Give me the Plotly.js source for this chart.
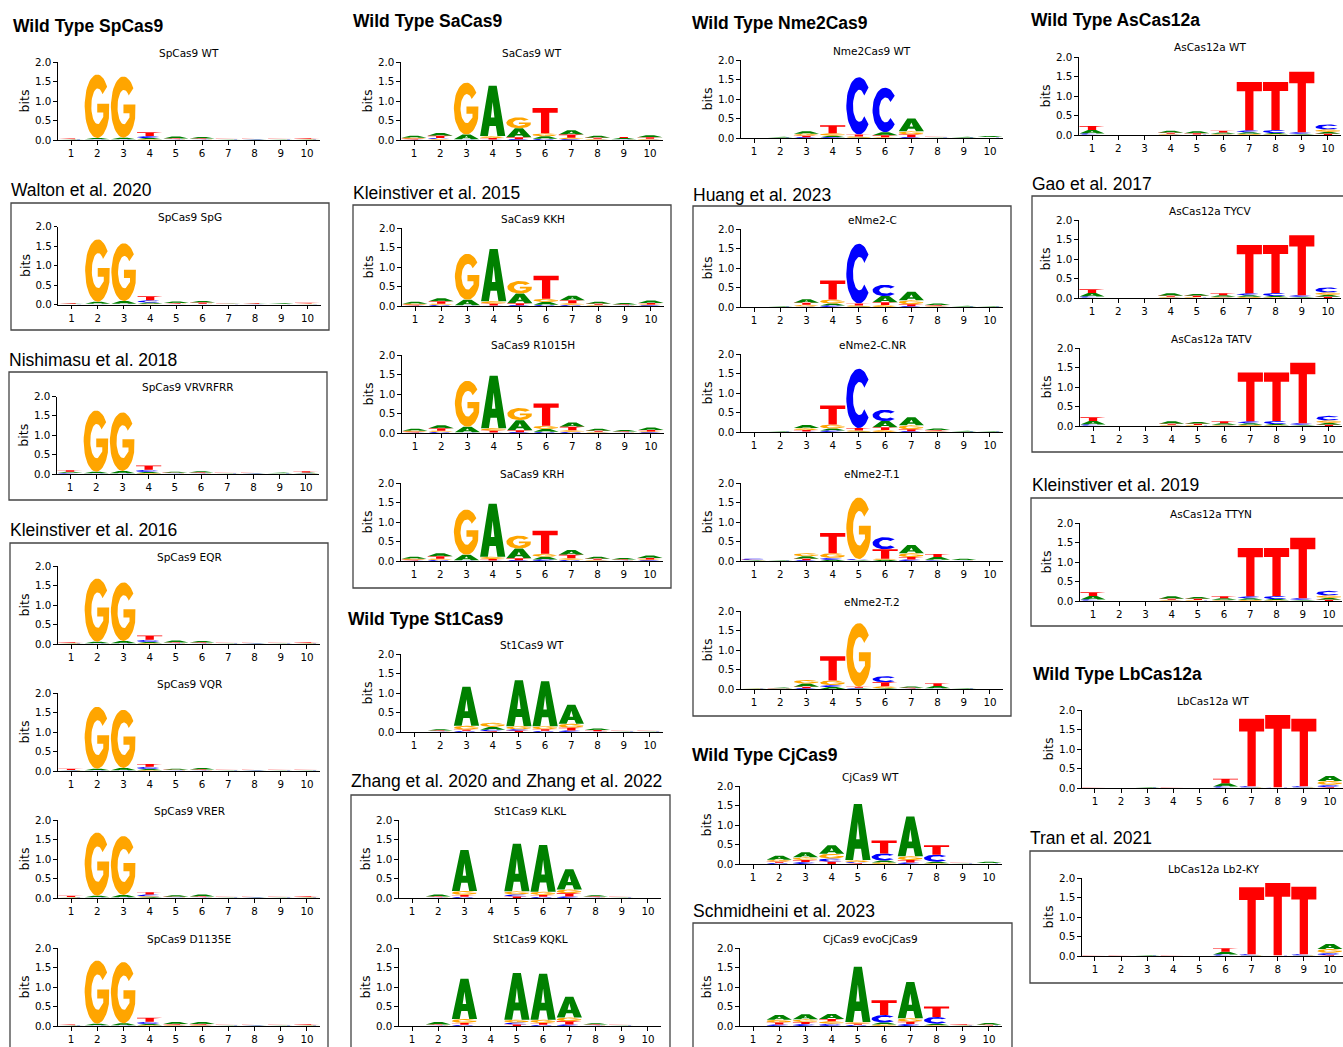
<!DOCTYPE html>
<html><head><meta charset="utf-8">
<script src="https://cdn.plot.ly/plotly-3.0.1.min.js"></script>
<style>html,body{margin:0;padding:0;background:#fff}</style>
</head><body><div id="chart" style="width:1343px;height:1047px"></div>
<script>
// ---------------- DATA ----------------
const positions = [1,2,3,4,5,6,7,8,9,10];
const yTickVals = [0,0.5,1,1.5,2];
const yTickText = ['0.0','0.5','1.0','1.5','2.0'];
const bases = ['A','C','G','T'];

// information content (bits) per base per position
const SpCas9_WT = {
 A:[0.01,0.03,0.04,0.03,0.05,0.04,0.01,0.01,0.01,0.01],
 C:[0.005,0.01,0.01,0.05,0.01,0.01,0.005,0.005,0.005,0.005],
 G:[0.005,1.63,1.57,0.02,0.01,0.01,0.005,0.005,0.005,0.01],
 T:[0.02,0.01,0.01,0.10,0.02,0.02,0.01,0.01,0.01,0.02]};
const SpCas9_SpG = {
 A:[0.01,0.05,0.07,0.03,0.04,0.04,0.01,0.01,0.02,0.01],
 C:[0.005,0.01,0.01,0.06,0.01,0.01,0.005,0.005,0.005,0.005],
 G:[0.005,1.60,1.48,0.02,0.01,0.01,0.005,0.005,0.005,0.01],
 T:[0.02,0.01,0.01,0.10,0.02,0.03,0.01,0.02,0.01,0.02]};
const SpCas9_VRVRFRR = {
 A:[0.03,0.04,0.06,0.03,0.03,0.03,0.01,0.01,0.02,0.02],
 C:[0.02,0.01,0.01,0.06,0.01,0.01,0.005,0.005,0.005,0.01],
 G:[0.01,1.58,1.51,0.02,0.01,0.01,0.005,0.005,0.005,0.01],
 T:[0.04,0.01,0.01,0.11,0.01,0.02,0.01,0.01,0.01,0.03]};
const SpCas9_EQR = {
 A:[0.01,0.04,0.06,0.03,0.05,0.04,0.01,0.01,0.01,0.01],
 C:[0.005,0.01,0.01,0.06,0.01,0.01,0.005,0.005,0.005,0.005],
 G:[0.01,1.62,1.50,0.02,0.01,0.01,0.005,0.005,0.005,0.01],
 T:[0.02,0.01,0.01,0.11,0.02,0.02,0.01,0.01,0.01,0.02]};
const SpCas9_VQR = {
 A:[0.01,0.04,0.06,0.03,0.03,0.04,0.01,0.01,0.01,0.01],
 C:[0.01,0.01,0.01,0.06,0.01,0.01,0.005,0.005,0.005,0.005],
 G:[0.005,1.59,1.49,0.02,0.01,0.01,0.005,0.005,0.005,0.005],
 T:[0.03,0.01,0.01,0.07,0.01,0.02,0.01,0.01,0.01,0.01]};
const SpCas9_VRER = {
 A:[0.01,0.04,0.06,0.02,0.04,0.05,0.01,0.01,0.01,0.01],
 C:[0.005,0.01,0.01,0.05,0.01,0.01,0.005,0.005,0.005,0.005],
 G:[0.01,1.62,1.51,0.02,0.01,0.01,0.005,0.005,0.005,0.01],
 T:[0.03,0.01,0.01,0.06,0.01,0.02,0.01,0.01,0.01,0.02]};
const SpCas9_D1135E = {
 A:[0.01,0.04,0.05,0.03,0.05,0.05,0.01,0.01,0.01,0.01],
 C:[0.005,0.01,0.01,0.06,0.01,0.01,0.005,0.005,0.005,0.005],
 G:[0.005,1.62,1.57,0.02,0.02,0.02,0.005,0.005,0.005,0.01],
 T:[0.02,0.01,0.01,0.10,0.02,0.02,0.01,0.01,0.01,0.02]};
const SaCas9_WT = {
 A:[0.05,0.07,0.12,1.29,0.23,0.065,0.11,0.05,0.03,0.05],
 C:[0.01,0.03,0.01,0.01,0.02,0.03,0.02,0.01,0.01,0.01],
 G:[0.03,0.02,1.33,0.05,0.28,0.075,0.04,0.02,0.01,0.02],
 T:[0.02,0.06,0.01,0.04,0.05,0.65,0.08,0.03,0.03,0.04]};
const SaCas9_KKH = {
 A:[0.05,0.08,0.14,1.34,0.25,0.075,0.11,0.05,0.04,0.06],
 C:[0.01,0.03,0.01,0.01,0.02,0.03,0.03,0.01,0.01,0.02],
 G:[0.03,0.03,1.18,0.06,0.32,0.08,0.04,0.02,0.01,0.02],
 T:[0.02,0.06,0.01,0.05,0.05,0.59,0.08,0.03,0.02,0.04]};
const SaCas9_R1015H = {
 A:[0.05,0.08,0.14,1.35,0.26,0.075,0.11,0.05,0.04,0.06],
 C:[0.01,0.03,0.01,0.01,0.02,0.03,0.03,0.01,0.01,0.02],
 G:[0.03,0.03,1.18,0.06,0.31,0.08,0.04,0.02,0.01,0.02],
 T:[0.02,0.06,0.01,0.05,0.05,0.57,0.09,0.03,0.02,0.04]};
const SaCas9_KRH = {
 A:[0.05,0.08,0.14,1.36,0.25,0.07,0.12,0.05,0.04,0.06],
 C:[0.01,0.03,0.01,0.01,0.02,0.04,0.03,0.01,0.01,0.02],
 G:[0.03,0.03,1.16,0.06,0.33,0.075,0.04,0.02,0.01,0.02],
 T:[0.02,0.06,0.01,0.04,0.05,0.59,0.09,0.03,0.02,0.04]};
const St1Cas9_WT = {
 A:[0.005,0.03,1.00,0.07,1.18,1.15,0.49,0.04,0.01,0.01],
 C:[0.005,0.01,0.03,0.04,0.04,0.03,0.04,0.01,0.005,0.005],
 G:[0.005,0.01,0.10,0.11,0.08,0.08,0.10,0.01,0.005,0.005],
 T:[0.005,0.02,0.03,0.02,0.03,0.04,0.07,0.03,0.01,0.01]};
const St1Cas9_KLKL = {
 A:[0.005,0.05,1.05,0.005,1.22,1.20,0.52,0.03,0.01,0.005],
 C:[0.005,0.01,0.03,0.005,0.05,0.03,0.04,0.01,0.005,0.005],
 G:[0.005,0.01,0.10,0.005,0.08,0.08,0.10,0.01,0.005,0.005],
 T:[0.005,0.02,0.05,0.005,0.04,0.05,0.08,0.02,0.01,0.005]};
const St1Cas9_KQKL = {
 A:[0.005,0.06,1.03,0.005,1.20,1.18,0.53,0.03,0.01,0.005],
 C:[0.005,0.01,0.03,0.005,0.05,0.03,0.04,0.01,0.005,0.005],
 G:[0.005,0.01,0.10,0.005,0.07,0.08,0.10,0.01,0.005,0.005],
 T:[0.005,0.02,0.05,0.005,0.04,0.05,0.08,0.02,0.01,0.005]};
const Nme2Cas9_WT = {
 A:[0.002,0.015,0.06,0.04,0.01,0.08,0.33,0.01,0.015,0.025],
 C:[0.002,0.005,0.02,0.02,1.47,1.14,0.02,0.005,0.005,0.005],
 G:[0.002,0.005,0.05,0.06,0.03,0.02,0.08,0.005,0.005,0.01],
 T:[0.002,0.005,0.04,0.21,0.05,0.05,0.07,0.01,0.005,0.01]};
const eNme2_C = {
 A:[0.002,0.01,0.09,0.05,0.01,0.16,0.22,0.04,0.015,0.01],
 C:[0.002,0.005,0.01,0.04,1.53,0.29,0.02,0.01,0.005,0.005],
 G:[0.002,0.005,0.05,0.10,0.03,0.05,0.10,0.02,0.005,0.005],
 T:[0.002,0.005,0.05,0.49,0.05,0.07,0.05,0.02,0.005,0.005]};
const eNme2_CNR = {
 A:[0.002,0.01,0.08,0.05,0.01,0.16,0.21,0.04,0.015,0.01],
 C:[0.002,0.005,0.01,0.04,1.52,0.29,0.02,0.01,0.005,0.005],
 G:[0.002,0.005,0.05,0.10,0.03,0.05,0.10,0.02,0.005,0.005],
 T:[0.002,0.005,0.04,0.49,0.06,0.07,0.05,0.02,0.005,0.005]};
const eNme2_T1 = {
 A:[0.01,0.01,0.06,0.03,0.01,0.03,0.21,0.07,0.03,0.005],
 C:[0.03,0.005,0.02,0.05,0.03,0.31,0.04,0.02,0.01,0.005],
 G:[0.01,0.005,0.08,0.12,1.58,0.03,0.10,0.01,0.005,0.005],
 T:[0.01,0.005,0.04,0.52,0.01,0.24,0.06,0.08,0.01,0.005]};
const eNme2_T2 = {
 A:[0.01,0.02,0.08,0.05,0.01,0.02,0.03,0.06,0.01,0.005],
 C:[0.005,0.005,0.02,0.05,0.02,0.16,0.01,0.01,0.005,0.005],
 G:[0.01,0.01,0.09,0.12,1.63,0.05,0.005,0.01,0.005,0.005],
 T:[0.01,0.005,0.04,0.62,0.03,0.10,0.02,0.07,0.005,0.01]};
const CjCas9_WT = {
 A:[0.002,0.10,0.13,0.22,1.44,0.05,1.02,0.04,0.01,0.03],
 C:[0.002,0.03,0.05,0.08,0.03,0.18,0.04,0.18,0.005,0.005],
 G:[0.002,0.05,0.07,0.12,0.05,0.04,0.10,0.02,0.005,0.01],
 T:[0.002,0.03,0.05,0.06,0.02,0.33,0.06,0.24,0.01,0.01]};
const CjCas9_evo = {
 A:[0.002,0.12,0.13,0.13,1.42,0.05,0.93,0.04,0.01,0.04],
 C:[0.002,0.04,0.05,0.06,0.03,0.19,0.05,0.17,0.005,0.005],
 G:[0.002,0.07,0.07,0.06,0.04,0.04,0.09,0.02,0.01,0.01],
 T:[0.002,0.05,0.05,0.06,0.03,0.38,0.06,0.27,0.02,0.02]};
const AsCas12a_WT = {
 A:[0.09,0.002,0.002,0.05,0.05,0.035,0.04,0.03,0.02,0.05],
 C:[0.03,0.002,0.002,0.01,0.005,0.01,0.05,0.08,0.04,0.13],
 G:[0.01,0.002,0.002,0.02,0.01,0.02,0.03,0.02,0.01,0.06],
 T:[0.10,0.002,0.002,0.03,0.03,0.045,1.24,1.23,1.55,0.03]};
const AsCas12a_TYCV = {
 A:[0.09,0.002,0.002,0.06,0.05,0.04,0.04,0.03,0.02,0.05],
 C:[0.03,0.002,0.002,0.01,0.005,0.01,0.05,0.08,0.04,0.13],
 G:[0.01,0.002,0.002,0.02,0.02,0.02,0.03,0.02,0.01,0.06],
 T:[0.095,0.002,0.002,0.03,0.03,0.05,1.24,1.23,1.54,0.03]};
const AsCas12a_TATV = {
 A:[0.09,0.002,0.004,0.06,0.05,0.04,0.04,0.03,0.02,0.05],
 C:[0.03,0.002,0.002,0.01,0.005,0.01,0.05,0.08,0.04,0.12],
 G:[0.01,0.002,0.002,0.02,0.02,0.02,0.03,0.02,0.01,0.06],
 T:[0.095,0.002,0.002,0.03,0.03,0.05,1.25,1.24,1.55,0.03]};
const AsCas12a_TTYN = {
 A:[0.09,0.002,0.002,0.06,0.05,0.04,0.04,0.03,0.02,0.05],
 C:[0.03,0.002,0.002,0.01,0.005,0.01,0.05,0.08,0.04,0.12],
 G:[0.01,0.002,0.002,0.02,0.02,0.02,0.03,0.02,0.01,0.06],
 T:[0.095,0.002,0.002,0.03,0.03,0.05,1.24,1.23,1.55,0.03]};
const LbCas12a_WT = {
 A:[0.005,0.005,0.01,0.005,0.005,0.08,0.01,0.005,0.01,0.13],
 C:[0.002,0.002,0.005,0.002,0.005,0.03,0.03,0.01,0.03,0.06],
 G:[0.002,0.002,0.005,0.002,0.005,0.01,0.005,0.005,0.005,0.10],
 T:[0.005,0.01,0.005,0.005,0.01,0.12,1.73,1.85,1.73,0.02]};
const LbCas12a_Lb2KY = {
 A:[0.005,0.005,0.01,0.005,0.005,0.07,0.01,0.005,0.01,0.13],
 C:[0.002,0.002,0.005,0.002,0.005,0.03,0.03,0.01,0.03,0.06],
 G:[0.002,0.002,0.005,0.002,0.005,0.01,0.005,0.005,0.005,0.10],
 T:[0.005,0.005,0.005,0.005,0.01,0.09,1.72,1.85,1.73,0.02]};

// ---------------- LAYOUT CONFIG ----------------
const W = 1343, H = 1047;
const panels = [
 {title:'SpCas9 WT', data:SpCas9_WT, x1:71, y2:62, y0:140},
 {title:'SpCas9 SpG', data:SpCas9_SpG, x1:71.5, y2:226.5, y0:304.5},
 {title:'SpCas9 VRVRFRR', data:SpCas9_VRVRFRR, x1:70, y2:396.5, y0:474},
 {title:'SpCas9 EQR', data:SpCas9_EQR, x1:71, y2:566, y0:644},
 {title:'SpCas9 VQR', data:SpCas9_VQR, x1:71, y2:693, y0:771},
 {title:'SpCas9 VRER', data:SpCas9_VRER, x1:71, y2:820, y0:898},
 {title:'SpCas9 D1135E', data:SpCas9_D1135E, x1:71, y2:948, y0:1026},
 {title:'SaCas9 WT', data:SaCas9_WT, x1:414, y2:62, y0:140},
 {title:'SaCas9 KKH', data:SaCas9_KKH, x1:415, y2:228, y0:306},
 {title:'SaCas9 R1015H', data:SaCas9_R1015H, x1:415, y2:355, y0:433},
 {title:'SaCas9 KRH', data:SaCas9_KRH, x1:414, y2:483, y0:561},
 {title:'St1Cas9 WT', data:St1Cas9_WT, x1:414, y2:654, y0:732},
 {title:'St1Cas9 KLKL', data:St1Cas9_KLKL, x1:412, y2:820, y0:898},
 {title:'St1Cas9 KQKL', data:St1Cas9_KQKL, x1:412, y2:948, y0:1026},
 {title:'Nme2Cas9 WT', data:Nme2Cas9_WT, x1:754, y2:60, y0:138},
 {title:'eNme2-C', data:eNme2_C, x1:754, y2:229, y0:307},
 {title:'eNme2-C.NR', data:eNme2_CNR, x1:754, y2:354, y0:432},
 {title:'eNme2-T.1', data:eNme2_T1, x1:754, y2:483, y0:561},
 {title:'eNme2-T.2', data:eNme2_T2, x1:754, y2:611, y0:689},
 {title:'CjCas9 WT', data:CjCas9_WT, x1:753, y2:786, y0:864},
 {title:'CjCas9 evoCjCas9', data:CjCas9_evo, x1:753, y2:948, y0:1026},
 {title:'AsCas12a WT', data:AsCas12a_WT, x1:1092, y2:57, y0:135},
 {title:'AsCas12a TYCV', data:AsCas12a_TYCV, x1:1092, y2:220, y0:298},
 {title:'AsCas12a TATV', data:AsCas12a_TATV, x1:1093, y2:348, y0:426},
 {title:'AsCas12a TTYN', data:AsCas12a_TTYN, x1:1093, y2:523, y0:601},
 {title:'LbCas12a WT', data:LbCas12a_WT, x1:1095, y2:710, y0:788},
 {title:'LbCas12a Lb2-KY', data:LbCas12a_Lb2KY, x1:1095, y2:878, y0:956}
];
const headings = [
 {text:'Wild Type SpCas9', bold:true, x:11, y:26},
 {text:'Walton et al. 2020', x:9, y:190},
 {text:'Nishimasu et al. 2018', x:7, y:360},
 {text:'Kleinstiver et al. 2016', x:8, y:530},
 {text:'Wild Type SaCas9', bold:true, x:351, y:21},
 {text:'Kleinstiver et al. 2015', x:351, y:193},
 {text:'Wild Type St1Cas9', bold:true, x:346, y:619},
 {text:'Zhang et al. 2020 and Zhang et al. 2022', x:349, y:781},
 {text:'Wild Type Nme2Cas9', bold:true, x:690, y:23},
 {text:'Huang et al. 2023', x:691, y:195},
 {text:'Wild Type CjCas9', bold:true, x:690, y:755},
 {text:'Schmidheini et al. 2023', x:691, y:911},
 {text:'Wild Type AsCas12a', bold:true, x:1029, y:20},
 {text:'Gao et al. 2017', x:1030, y:184},
 {text:'Kleinstiver et al. 2019', x:1030, y:485},
 {text:'Wild Type LbCas12a', bold:true, x:1031, y:674},
 {text:'Tran et al. 2021', x:1028, y:838}
];
const boxes = [
 [11,203,329,330],[9,372,327,500],[10,543,328,1070],
 [353,205,671,588],[351,795,670,1070],
 [693,206,1011,716],[693,923,1012,1070],
 [1032,196,1360,452],[1031,498,1360,626],[1030,851,1360,983]
];
const colors = {A:'#008000', C:'#0000ff', G:'#ffa500', T:'#ff0000'};

// ---------------- GLYPHS (unit box outlines) ----------------
function arc(cx,cy,rx,ry,a0,a1,n){
  const p=[];
  for(let i=0;i<=n;i++){const a=(a0+(a1-a0)*i/n)*Math.PI/180;p.push([cx+rx*Math.cos(a),cy+ry*Math.sin(a)]);}
  return p;
}
const GLYPH = {
 T:[[0,1],[1,1],[1,0.81],[0.665,0.81],[0.665,0],[0.335,0],[0.335,0.81],[0,0.81]],
 A:[[0,0],[0.34,1],[0.66,1],[1,0],[0.69,0],[0.625,0.2],[0.375,0.2],[0.31,0]],
 C:arc(0.5,0.5,0.5,0.5,40,320,40).concat(arc(0.52,0.5,0.255,0.28,320,40,32)),
 G:arc(0.5,0.5,0.5,0.5,38,338,40).concat([[0.975,0.54],[0.5,0.54],[0.5,0.40],[0.74,0.40],[0.74,0.33]]).concat(arc(0.52,0.5,0.255,0.28,316,42,32))
};
const HOLE_A = [[0.43,0.37],[0.57,0.37],[0.5,0.68]];
const LW = 0.96;

// ---------------- BUILD ----------------
const traces = [];
const layout = {
  width:W, height:H, margin:{l:0,r:0,t:0,b:0}, showlegend:false,
  paper_bgcolor:'#fff', plot_bgcolor:'rgba(0,0,0,0)',
  annotations:[], shapes:[]
};
const fx = p => p/W, fy = p => 1-p/H;

panels.forEach((pn,i)=>{
  const k = i+1, sx = k===1?'':String(k);
  const xs = {A:[],C:[],G:[],T:[]}, ys = {A:[],C:[],G:[],T:[]};
  const hx = [], hy = [];
  positions.forEach((pos,j)=>{
    const stack = bases.map(b=>({b:b,h:pn.data[b][j]})).filter(s=>s.h>0.003);
    stack.sort((a,b)=>a.h-b.h);
    let base = 0;
    stack.forEach(s=>{
      const g = GLYPH[s.b];
      const x0 = pos - LW/2;
      g.forEach(p=>{xs[s.b].push(x0+p[0]*LW); ys[s.b].push(base+p[1]*s.h);});
      xs[s.b].push(null); ys[s.b].push(null);
      if(s.b==='A' && s.h>0.08){
        HOLE_A.forEach(p=>{hx.push(x0+p[0]*LW); hy.push(base+p[1]*s.h);});
        hx.push(null); hy.push(null);
      }
      base += s.h;
    });
  });
  bases.forEach(b=>{
    traces.push({type:'scatter', mode:'lines', x:xs[b], y:ys[b], fill:'toself',
      fillcolor:colors[b], line:{width:0,color:colors[b]}, hoverinfo:'skip',
      xaxis:'x'+sx, yaxis:'y'+sx});
  });
  traces.push({type:'scatter', mode:'lines', x:hx, y:hy, fill:'toself',
      fillcolor:'#ffffff', line:{width:0,color:'#fff'}, hoverinfo:'skip',
      xaxis:'x'+sx, yaxis:'y'+sx});

  const left = pn.x1 - 13.1, right = pn.x1 + 236 + 13.1;
  layout['xaxis'+sx] = {domain:[fx(left),fx(right)], range:[0.5,10.5], anchor:'y'+sx,
    tickmode:'array', tickvals:positions, ticktext:positions.map(String),
    ticks:'outside', ticklen:3.5, tickwidth:1, tickcolor:'#000',
    showline:true, linecolor:'#000', linewidth:1.4, showgrid:false, zeroline:false,
    tickfont:{family:'DejaVu Sans', size:10.3, color:'#000'}, fixedrange:true};
  layout['yaxis'+sx] = {domain:[fy(pn.y0),fy(pn.y2)], range:[0,2], anchor:'x'+sx,
    tickmode:'array', tickvals:yTickVals, ticktext:yTickText,
    ticks:'outside', ticklen:3.5, tickwidth:1, tickcolor:'#000',
    showline:true, linecolor:'#000', linewidth:1, showgrid:false, zeroline:false,
    tickfont:{family:'DejaVu Sans', size:10.3, color:'#000'}, fixedrange:true,
    title:{text:'bits', font:{family:'DejaVu Sans', size:12.5, color:'#000'}, standoff:2}};
  layout.annotations.push({xref:'paper', yref:'paper', x:fx((left+right)/2), y:fy(pn.y2-9.5),
    xanchor:'center', yanchor:'middle', showarrow:false, text:pn.title,
    font:{family:'DejaVu Sans', size:10.5, color:'#000'}});
});

headings.forEach(h=>{
  layout.annotations.push({xref:'paper', yref:'paper', x:fx(h.x), y:fy(h.y),
    xanchor:'left', yanchor:'middle', showarrow:false,
    text: h.bold ? '<b>'+h.text+'</b>' : h.text,
    font:{family:'Liberation Sans, Arial, sans-serif', size:17.5, color:'#000'}});
});
boxes.forEach(b=>{
  layout.shapes.push({type:'rect', xref:'paper', yref:'paper', x0:fx(b[0]), x1:fx(b[2]),
    y0:fy(b[3]), y1:fy(b[1]), line:{color:'#444', width:1.3}, fillcolor:'rgba(0,0,0,0)'});
});

Plotly.newPlot('chart', traces, layout, {staticPlot:true, displayModeBar:false});
</script>
</body></html>
